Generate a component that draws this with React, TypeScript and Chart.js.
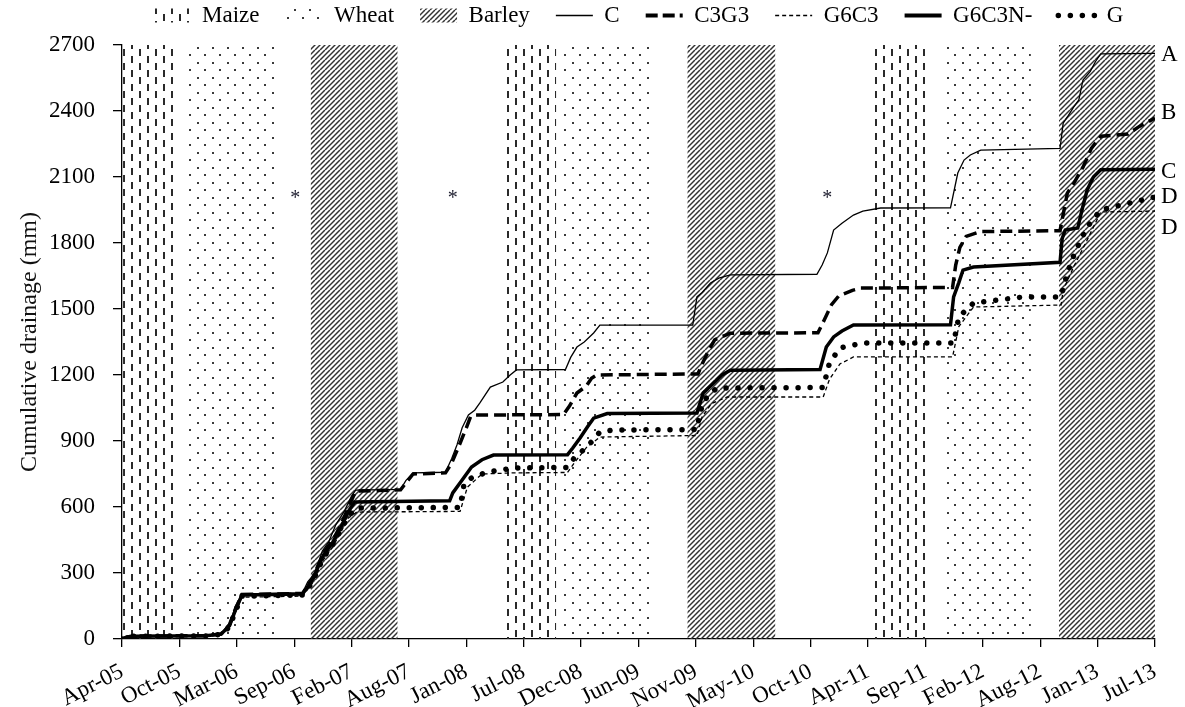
import React, { useEffect, useRef } from 'react';
import { Chart, registerables } from 'chart.js';

Chart.register(...registerables);

// ---------- axis data ----------
const xTickLabels = ['Apr-05', 'Oct-05', 'Mar-06', 'Sep-06', 'Feb-07', 'Aug-07', 'Jan-08', 'Jul-08', 'Dec-08', 'Jun-09', 'Nov-09', 'May-10', 'Oct-10', 'Apr-11', 'Sep-11', 'Feb-12', 'Aug-12', 'Jan-13', 'Jul-13'];
const xStepMonths = 5.5; // months since Apr-05 between labelled ticks
const xMaxMonths = 99;
const yMax = 2700;
const yStep = 300;

// ---------- crop periods (months since Apr-05) ----------
const maizeBands: [number, number][] = [[0.1, 4.9], [36.5, 41.6], [71.9, 77.0]];
const wheatBands: [number, number][] = [[6.0, 14.9], [41.9, 50.9], [79.0, 87.1]];
const barleyBands: [number, number][] = [[18.1, 26.4], [54.2, 62.6], [89.8, 99]];

// ---------- cumulative drainage series: [months since Apr-05, mm] ----------
const seriesC: [number, number][] = [[0, 0], [0.5, 10], [1, 14], [4, 15], [8, 16], [9.5, 25], [10.3, 70], [10.9, 150], [11.5, 205], [17.3, 210], [17.8, 260], [18.5, 300], [19.2, 400], [19.8, 440], [20.5, 520], [21.3, 580], [22, 650], [22.4, 677], [26.7, 680], [27.2, 720], [27.9, 755], [31, 758], [31.6, 820], [32.1, 882], [32.6, 960], [33.2, 1018], [33.8, 1040], [34.3, 1073], [35.3, 1145], [36.5, 1168], [37.2, 1200], [37.8, 1223], [42.5, 1225], [43, 1280], [43.6, 1327], [44.3, 1350], [45.2, 1391], [45.8, 1427], [54.7, 1427], [55.1, 1555], [55.6, 1575], [56.4, 1618], [57.2, 1640], [58.3, 1655], [66.6, 1658], [67.1, 1700], [67.6, 1755], [68.2, 1859], [69, 1890], [70.1, 1927], [71, 1945], [72.7, 1959], [79.4, 1960], [79.8, 2050], [80.1, 2118], [80.7, 2177], [81.3, 2200], [82.3, 2222], [89.9, 2230], [90.2, 2345], [90.7, 2380], [91.2, 2418], [91.7, 2450], [92.1, 2541], [92.8, 2580], [93.3, 2625], [93.8, 2660], [99, 2662]];
const seriesC3G3: [number, number][] = [[0, 0], [0.5, 9], [1, 13], [4, 14], [8, 15], [9.5, 23], [10.3, 65], [10.9, 140], [11.5, 202], [17.3, 207], [18.2, 270], [19.3, 390], [20.2, 450], [20.9, 510], [21.7, 600], [22.4, 672], [26.7, 678], [27.3, 715], [27.9, 750], [31, 755], [31.6, 800], [32.4, 890], [33, 960], [33.4, 1010], [33.8, 1018], [42.3, 1020], [42.9, 1060], [43.6, 1118], [44.5, 1150], [45, 1185], [45.5, 1200], [55.2, 1205], [55.6, 1250], [56.2, 1310], [56.8, 1360], [58.3, 1390], [66.7, 1392], [67.3, 1450], [68, 1520], [68.7, 1560], [70, 1585], [70.8, 1595], [79.6, 1598], [79.9, 1700], [80.3, 1780], [80.9, 1830], [82.3, 1852], [89.9, 1856], [90.2, 1930], [90.6, 2027], [91.2, 2070], [92.1, 2145], [92.9, 2230], [93.8, 2285], [96.4, 2295], [97.5, 2330], [99, 2368]];
const seriesG6C3: [number, number][] = [[0, 0], [0.5, 8], [1, 11], [4, 12], [8, 13], [9.5, 20], [10.3, 50], [10.9, 125], [11.5, 190], [17.3, 195], [18.2, 250], [19.3, 360], [20.2, 420], [20.9, 480], [21.7, 550], [22.5, 577], [32.4, 580], [33.1, 690], [34.5, 750], [37.5, 755], [42.7, 757], [43.5, 810], [44.5, 870], [45.8, 918], [55.1, 925], [55.6, 1010], [56.5, 1070], [58, 1100], [67.2, 1100], [67.8, 1180], [68.8, 1250], [70.1, 1282], [79.6, 1282], [80.2, 1420], [81.6, 1509], [90, 1518], [90.2, 1586], [91.2, 1691], [92.5, 1814], [93.8, 1941], [99, 1945]];
const seriesG6C3N: [number, number][] = [[0, 0], [0.5, 9], [1, 13], [4, 14], [8, 15], [9.5, 22], [10.3, 60], [10.9, 135], [11.5, 200], [17.3, 205], [18.2, 265], [19.3, 380], [20.2, 440], [20.9, 500], [21.7, 580], [22.3, 623], [31.4, 628], [31.7, 664], [32.6, 723], [33.5, 782], [34.5, 815], [35.6, 836], [42.7, 838], [43.2, 868], [43.9, 914], [44.6, 964], [45.2, 1004], [46.5, 1025], [55.1, 1027], [55.7, 1118], [56.7, 1164], [57.5, 1200], [58.3, 1222], [66.9, 1225], [67.5, 1327], [68.2, 1373], [69, 1400], [70.1, 1427], [79.4, 1428], [79.7, 1555], [80.2, 1620], [80.6, 1677], [81.6, 1691], [89.9, 1712], [90.1, 1820], [90.4, 1859], [91.6, 1868], [92, 1950], [92.5, 2041], [93.1, 2100], [93.8, 2133], [99, 2135]];
const seriesG: [number, number][] = [[0, 0], [0.5, 8], [1, 12], [4, 13], [8, 14], [9.5, 21], [10.3, 55], [10.9, 130], [11.5, 195], [17.3, 200], [18.2, 255], [19.3, 370], [20.2, 430], [20.9, 490], [21.7, 560], [22.5, 595], [32.4, 598], [32.8, 709], [33.5, 732], [35, 759], [37.5, 777], [42.7, 780], [43.3, 820], [43.9, 845], [44.9, 891], [45.8, 941], [47.1, 950], [55.1, 952], [55.4, 1030], [55.8, 1086], [57, 1141], [67.2, 1143], [67.8, 1254], [68.8, 1323], [71, 1345], [79.7, 1345], [80.2, 1464], [81.6, 1527], [86.4, 1555], [90, 1555], [90.6, 1664], [91.3, 1755], [92.5, 1873], [93.8, 1950], [96.6, 1982], [99, 2009]];

// ---------- annotations ----------
const endLabels = ['A', 'B', 'C', 'D', 'D'];
const endLabelValues = [2655, 2390, 2123, 2009, 1868];
const asteriskMonths = [16.6, 31.7, 67.6];
const asteriskValue = 2000;

const FONT = '"Liberation Serif", "Times New Roman", serif';

function makePattern(kind: 'maize' | 'wheat' | 'barley'): CanvasPattern | string {
  const c = document.createElement('canvas');
  const g = c.getContext('2d');
  if (!g) return '#999';
  if (kind === 'maize') {
    c.width = 16; c.height = 14;
    g.fillStyle = '#2a2a2a';
    g.fillRect(3, 0, 2, 7);
    g.fillRect(11, 7, 2, 7);
  } else if (kind === 'wheat') {
    c.width = 15; c.height = 15;
    g.fillStyle = '#3a3a3a';
    g.fillRect(2, 2, 2, 2);
    g.fillRect(9, 9, 2, 2);
  } else {
    c.width = 10; c.height = 10;
    g.strokeStyle = '#333';
    g.lineWidth = 1.5;
    for (let k = -2; k <= 2; k++) {
      g.beginPath();
      g.moveTo(k * 5, 10);
      g.lineTo(k * 5 + 10, 0);
      g.stroke();
    }
  }
  const p = g.createPattern(c, 'repeat');
  return p || '#999';
}

const toXY = (s: [number, number][]) => s.map(([x, y]) => ({ x, y }));

export default function App() {
  const ref = useRef<HTMLCanvasElement | null>(null);

  useEffect(() => {
    if (!ref.current) return;
    const maizePat = makePattern('maize');
    const wheatPat = makePattern('wheat');
    const barleyPat = makePattern('barley');

    const legendShift = {
      id: 'legendShift',
      afterLayout(chart: any) {
        const lg = chart.legend;
        if (lg) { lg.top -= 8; lg.bottom -= 8; }
      },
    };

    const bandsPlugin = {
      id: 'cropBands',
      beforeDatasetsDraw(chart: any) {
        const { ctx, scales } = chart;
        const xs = scales.x, ys = scales.y;
        const top = ys.getPixelForValue(yMax);
        const bottom = ys.getPixelForValue(0);
        const draw = (bands: [number, number][], pat: any) => {
          bands.forEach(([a, b]) => {
            const x0 = xs.getPixelForValue(a);
            const x1 = xs.getPixelForValue(b);
            ctx.save();
            ctx.fillStyle = pat;
            ctx.fillRect(x0, top, x1 - x0, bottom - top);
            ctx.restore();
          });
        };
        draw(maizeBands, maizePat);
        draw(wheatBands, wheatPat);
        draw(barleyBands, barleyPat);
      },
    };

    const textPlugin = {
      id: 'annotTexts',
      afterDatasetsDraw(chart: any) {
        const { ctx, chartArea, scales } = chart;
        ctx.save();
        ctx.fillStyle = '#000';
        ctx.font = `23px ${FONT}`;
        ctx.textAlign = 'left';
        ctx.textBaseline = 'middle';
        endLabels.forEach((t, i) => {
          ctx.fillText(t, chartArea.right + 6, scales.y.getPixelForValue(endLabelValues[i]));
        });
        ctx.font = `20px ${FONT}`;
        ctx.textAlign = 'center';
        ctx.fillStyle = '#223';
        asteriskMonths.forEach((m) => {
          ctx.fillText('*', scales.x.getPixelForValue(m), scales.y.getPixelForValue(asteriskValue));
        });
        ctx.restore();
      },
    };

    const lineBase = { pointRadius: 0, pointHoverRadius: 0, fill: false, tension: 0, borderColor: '#000', backgroundColor: '#000' };

    const chart = new Chart(ref.current, {
      type: 'line',
      data: {
        datasets: [
          { ...lineBase, label: 'C3G3', data: toXY(seriesC3G3), borderWidth: 3.5, borderDash: [12, 6] },
          { ...lineBase, label: 'G6C3N-', data: toXY(seriesG6C3N), borderWidth: 3.5 },
          { ...lineBase, label: 'G', data: toXY(seriesG), borderWidth: 5.5, borderDash: [0.01, 12], borderCapStyle: 'round' },
          { ...lineBase, label: 'G6C3', data: toXY(seriesG6C3), borderWidth: 1.3, borderDash: [4, 3] },
          { ...lineBase, label: 'C', data: toXY(seriesC), borderWidth: 1.3 },
        ] as any,
      },
      options: {
        animation: false,
        responsive: false,
        events: [],
        layout: { padding: { top: -29, right: 30, left: 0, bottom: 0 } },
        plugins: {
          tooltip: { enabled: false },
          legend: {
            position: 'top',
            fullSize: false,
            labels: {
              usePointStyle: true,
              pointStyleWidth: 37,
              boxHeight: 14,
              padding: 26,
              color: '#000',
              font: { family: FONT, size: 23 },
              generateLabels: () => [
                { text: 'Maize', fillStyle: maizePat, strokeStyle: 'rgba(0,0,0,0)', lineWidth: 0, pointStyle: 'rect', hidden: false },
                { text: 'Wheat', fillStyle: wheatPat, strokeStyle: 'rgba(0,0,0,0)', lineWidth: 0, pointStyle: 'rect', hidden: false },
                { text: 'Barley', fillStyle: barleyPat, strokeStyle: 'rgba(0,0,0,0)', lineWidth: 0, pointStyle: 'rect', hidden: false },
                { text: 'C', fillStyle: 'rgba(0,0,0,0)', strokeStyle: '#000', lineWidth: 1.5, pointStyle: 'line', lineDash: [], hidden: false },
                { text: 'C3G3', fillStyle: 'rgba(0,0,0,0)', strokeStyle: '#000', lineWidth: 4, pointStyle: 'line', lineDash: [12, 5], hidden: false },
                { text: 'G6C3', fillStyle: 'rgba(0,0,0,0)', strokeStyle: '#000', lineWidth: 1.5, pointStyle: 'line', lineDash: [4, 3], hidden: false },
                { text: 'G6C3N-', fillStyle: 'rgba(0,0,0,0)', strokeStyle: '#000', lineWidth: 4, pointStyle: 'line', lineDash: [], hidden: false },
                { text: 'G', fillStyle: 'rgba(0,0,0,0)', strokeStyle: '#000', lineWidth: 5.5, pointStyle: 'line', lineDash: [0.01, 12], lineCap: 'round', hidden: false },
              ] as any,
            },
          },
        },
        scales: {
          x: {
            type: 'linear',
            min: 0,
            max: xMaxMonths,
            ticks: {
              stepSize: xStepMonths,
              autoSkip: false,
              minRotation: 27,
              maxRotation: 27,
              padding: 11,
              color: '#000',
              font: { family: FONT, size: 23 },
              callback: (v: any) => xTickLabels[Math.round(Number(v) / xStepMonths)] ?? '',
            },
            grid: { display: true, drawOnChartArea: false, drawTicks: true, tickLength: 8, color: '#000', lineWidth: 1.3 },
            border: { display: true, color: '#000', width: 1.3 },
            afterFit: (s: any) => { s.height = 68; s.paddingLeft = 0; s.paddingRight = 0; },
          },
          y: {
            min: 0,
            max: yMax,
            ticks: {
              stepSize: yStep,
              padding: 18,
              color: '#000',
              font: { family: FONT, size: 23 },
              callback: (v: any) => String(v),
            },
            grid: { display: true, drawOnChartArea: false, drawTicks: true, tickLength: 9, color: '#000', lineWidth: 1.3 },
            border: { display: true, color: '#000', width: 1.3 },
            title: { display: true, text: 'Cumulative drainage (mm)', color: '#111', font: { family: FONT, size: 24 }, padding: { top: 15, bottom: 0 } },
            afterFit: (s: any) => { s.width = 122; s.paddingTop = 45; },
          },
        },
      } as any,
      plugins: [legendShift, bandsPlugin, textPlugin],
    });
    return () => chart.destroy();
  }, []);

  return (
    <div style={{ position: 'absolute', left: 0, top: 0, width: 1185, height: 707, background: '#fff' }}>
      <canvas ref={ref} width={1185} height={707} style={{ display: 'block' }} />
    </div>
  );
}
